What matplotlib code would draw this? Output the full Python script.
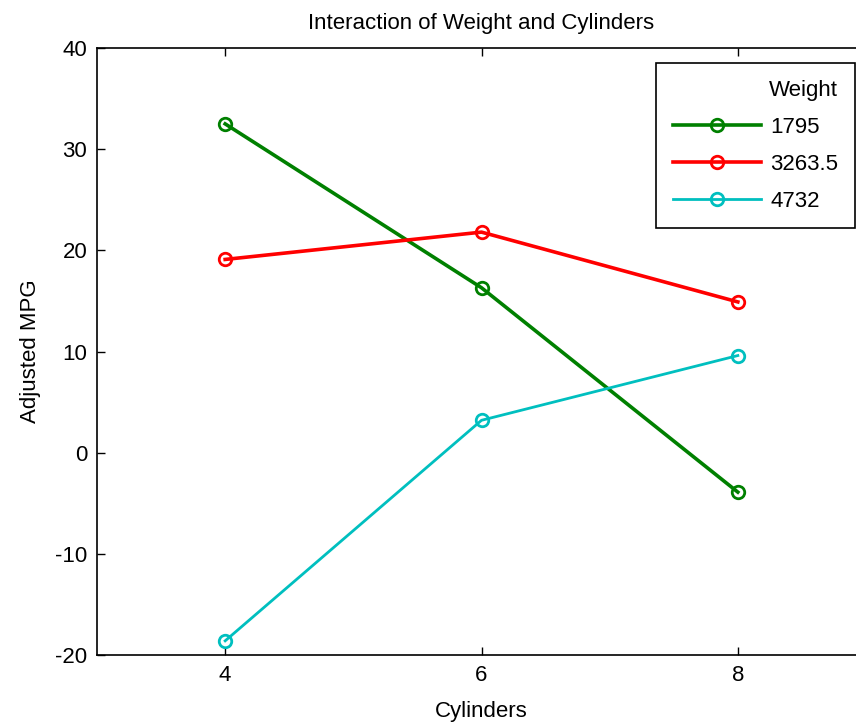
import matplotlib
matplotlib.use("Agg")
import matplotlib.pyplot as plt

plt.rcParams['font.family'] = ['Liberation Sans', 'DejaVu Sans']
plt.rcParams['axes.unicode_minus'] = False

cylinders = [4, 6, 8]
weights = ["1795", "3263.5", "4732"]
mpg_1795 = [32.5, 16.3, -3.9]
mpg_3263 = [19.1, 21.8, 14.9]
mpg_4732 = [-18.6, 3.2, 9.6]
colors = ["#008000", "#ff0000", "#00bfbf"]
series = [mpg_1795, mpg_3263, mpg_4732]
widths = [2.6, 2.6, 2.0]

fig = plt.figure(figsize=(8.56, 7.27), dpi=100)
ax = fig.add_axes([97/856, 72/727, (866-97)/856, (655-48)/727])

handles = []
for vals, c, lab, lw in zip(series, colors, weights, widths):
    h, = ax.plot(cylinders, vals, color=c, lw=lw, marker='o', markersize=9,
                 markerfacecolor='none', markeredgecolor=c, markeredgewidth=2,
                 label=lab)
    handles.append(h)

ax.set_xlim(3, 9)
ax.set_ylim(-20, 40)
ax.set_xticks(cylinders)
ax.set_yticks([-20, -10, 0, 10, 20, 30, 40])
ax.tick_params(direction='in', top=True, right=True, labelsize=16, length=6,
               width=1, pad=7)
for s in ax.spines.values():
    s.set_linewidth(1.2)

ax.set_title("Interaction of Weight and Cylinders", fontsize=16, pad=14)
ax.set_xlabel("Cylinders", fontsize=16, labelpad=11)
ax.set_ylabel("Adjusted MPG", fontsize=16, labelpad=10)

leg = ax.legend(handles=handles, title="Weight", loc='upper right',
                bbox_to_anchor=((855-97)/769, (727-63-72)/607),
                borderaxespad=0,
                fontsize=16, title_fontsize=16, fancybox=False, framealpha=1,
                edgecolor='black', handlelength=4.0, handletextpad=0.4,
                labelspacing=0.72, borderpad=0.75)
leg._legend_box.align = "right"
leg.get_frame().set_linewidth(1.2)

fig.savefig("out.png", dpi=100)
